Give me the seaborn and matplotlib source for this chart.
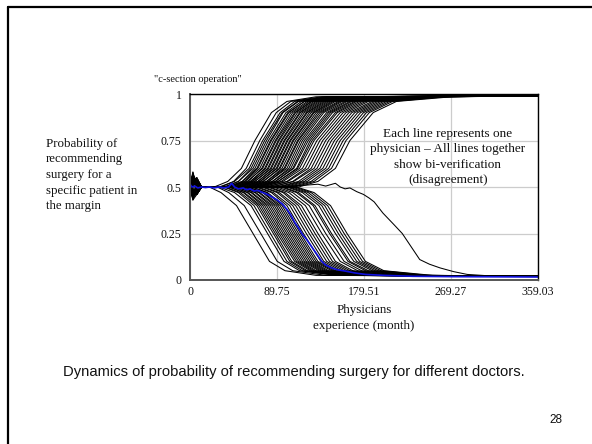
import numpy as np
import pandas as pd
import matplotlib
matplotlib.use("Agg")
import matplotlib.pyplot as plt
import seaborn as sns

# ----------------------------------------------------
# Datos
# ----------------------------------------------------

x_ticks = [0, 89.75, 179.51, 269.27, 359.03]
x_labels = ["0", "89.75", "179.51", "269.27", "359.03"]
y_ticks = [0, 0.25, 0.5, 0.75, 1]
y_labels = ["0", "0.25", "0.5", "0.75", "1"]

# ruido inicial: meses del ruido (inicio, pico 1, pico 2, vuelta a 0.5)
spike_months = [0, 3, 7, 12]

# medicos que terminan recomendando cirugia: meses en que cruzan cada nivel
upper_levels = [0.50, 0.53, 0.60, 0.75, 0.90, 0.96, 0.985]
upper_end = 0.99
upper_spike = [0.56, 0.53, 0.58, 0.51, 0.55, 0.57, 0.52, 0.54, 0.56, 0.50,
               0.53, 0.57, 0.55, 0.52, 0.58, 0.54, 0.51, 0.56, 0.53, 0.55,
               0.57, 0.52, 0.54, 0.56, 0.51, 0.55, 0.53, 0.57, 0.52, 0.54,
               0.56, 0.50, 0.55, 0.53, 0.57, 0.52, 0.54, 0.56, 0.51, 0.55,
               0.53, 0.57, 0.52, 0.54, 0.56, 0.53]
upper_spike2 = [0.51, 0.54, 0.50, 0.53, 0.52, 0.49, 0.54, 0.51, 0.50, 0.53,
                0.55, 0.50, 0.52, 0.54, 0.49, 0.51, 0.53, 0.50, 0.54, 0.52,
                0.50, 0.53, 0.55, 0.51, 0.52, 0.49, 0.54, 0.51, 0.53, 0.50,
                0.52, 0.54, 0.50, 0.53, 0.51, 0.55, 0.50, 0.52, 0.54, 0.49,
                0.53, 0.51, 0.54, 0.50, 0.52, 0.53]
upper_times = [
    [25, 39, 53, 67, 84, 100, 130],
    [32, 45, 58, 72, 89, 104, 136],
    [30, 46, 61, 75, 93, 108, 140],
    [36, 50, 63, 77, 95, 111, 142],
    [35, 50, 65, 79, 96, 112, 146],
    [40, 54, 67, 81, 99, 115, 148],
    [38, 54, 69, 83, 101, 118, 150],
    [42, 56, 70, 84, 102, 118, 152],
    [40, 57, 72, 86, 104, 121, 155],
    [45, 60, 74, 88, 106, 123, 156],
    [42, 59, 75, 89, 108, 125, 160],
    [48, 63, 77, 91, 109, 126, 160],
    [45, 62, 78, 92, 111, 128, 164],
    [50, 65, 80, 94, 113, 130, 165],
    [47, 64, 81, 95, 114, 132, 168],
    [52, 67, 83, 97, 116, 134, 170],
    [50, 67, 84, 98, 118, 136, 172],
    [55, 70, 86, 100, 120, 138, 175],
    [52, 70, 87, 101, 121, 140, 178],
    [57, 73, 89, 103, 123, 142, 180],
    [55, 72, 90, 104, 125, 144, 182],
    [60, 76, 92, 106, 127, 146, 185],
    [58, 75, 93, 107, 128, 148, 188],
    [62, 79, 95, 109, 130, 150, 190],
    [60, 79, 97, 111, 132, 153, 193],
    [65, 82, 98, 112, 134, 155, 195],
    [62, 81, 100, 114, 136, 157, 198],
    [68, 85, 102, 116, 138, 160, 200],
    [65, 85, 104, 118, 141, 162, 204],
    [70, 88, 106, 120, 143, 165, 207],
    [68, 88, 107, 122, 145, 167, 210],
    [72, 91, 110, 124, 147, 170, 213],
    [70, 91, 111, 126, 150, 172, 216],
    [75, 94, 113, 128, 152, 175, 220],
    [74, 96, 116, 131, 155, 178, 224],
    [80, 100, 119, 134, 158, 181, 228],
    [78, 101, 122, 137, 161, 184, 232],
    [85, 106, 125, 140, 164, 188, 236],
    [84, 107, 128, 143, 167, 191, 240],
    [90, 112, 131, 146, 170, 194, 244],
    [92, 115, 134, 149, 173, 197, 248],
    [96, 118, 137, 152, 176, 200, 252],
    [100, 121, 140, 155, 179, 203, 256],
    [104, 125, 143, 158, 182, 206, 260],
    [108, 128, 146, 161, 185, 209, 264],
    [112, 132, 150, 165, 189, 213, 270],
]

# medicos que terminan sin recomendar cirugia
lower_levels = [0.50, 0.47, 0.40, 0.25, 0.10, 0.05, 0.025]
lower_end = 0.02
lower_spike = [0.46, 0.48, 0.44, 0.49, 0.45, 0.47, 0.43, 0.48, 0.46, 0.44,
               0.49, 0.45, 0.47, 0.46, 0.44, 0.48, 0.45, 0.49, 0.46, 0.43,
               0.47, 0.45, 0.48, 0.44, 0.46, 0.49, 0.45, 0.47, 0.44, 0.48,
               0.46, 0.45, 0.47, 0.49]
lower_spike2 = [0.49, 0.46, 0.50, 0.47, 0.48, 0.51, 0.46, 0.49, 0.47, 0.50,
                0.46, 0.48, 0.50, 0.47, 0.49, 0.46, 0.51, 0.48, 0.47, 0.50,
                0.46, 0.49, 0.47, 0.50, 0.48, 0.46, 0.49, 0.51, 0.47, 0.48,
                0.50, 0.46, 0.49, 0.47]
lower_times = [
    [20, 32, 48, 65, 82, 98, 130],
    [28, 40, 56, 73, 90, 106, 140],
    [30, 46, 63, 80, 97, 113, 150],
    [35, 50, 66, 83, 100, 116, 152],
    [36, 52, 69, 86, 103, 119, 155],
    [40, 55, 71, 88, 105, 121, 158],
    [40, 56, 73, 90, 108, 124, 160],
    [44, 59, 75, 92, 110, 126, 162],
    [44, 60, 77, 94, 112, 128, 165],
    [48, 63, 79, 96, 114, 130, 166],
    [48, 64, 81, 98, 116, 133, 170],
    [52, 67, 83, 100, 118, 135, 172],
    [52, 68, 85, 102, 120, 137, 175],
    [56, 71, 87, 104, 122, 139, 176],
    [56, 72, 89, 106, 124, 141, 180],
    [60, 75, 91, 108, 126, 143, 182],
    [60, 76, 93, 110, 128, 146, 185],
    [64, 79, 95, 112, 130, 148, 186],
    [64, 80, 97, 114, 132, 150, 190],
    [68, 84, 100, 117, 135, 153, 192],
    [70, 86, 103, 120, 138, 156, 196],
    [74, 90, 106, 123, 141, 159, 200],
    [76, 92, 109, 126, 144, 162, 204],
    [80, 96, 112, 129, 147, 165, 208],
    [82, 98, 115, 132, 150, 168, 212],
    [86, 102, 119, 136, 155, 173, 216],
    [90, 106, 123, 140, 159, 177, 220],
    [94, 110, 127, 144, 163, 181, 226],
    [96, 112, 129, 146, 165, 184, 228],
    [100, 116, 133, 150, 169, 188, 232],
    [102, 119, 136, 153, 172, 191, 236],
    [105, 122, 139, 156, 175, 194, 240],
    [108, 125, 142, 159, 178, 197, 245],
    [110, 128, 145, 162, 181, 200, 250],
]

# el medico que tarda mucho en decidirse
slow_months = [0, 20, 50, 80, 100, 120, 132, 140, 150, 155, 160, 165, 172, 179,
               185, 190, 199, 210, 219, 228, 237, 247, 258, 272, 286, 310, 359.03]
slow_prob = [0.50, 0.50, 0.50, 0.505, 0.505, 0.51, 0.515, 0.505, 0.52, 0.50,
             0.49, 0.495, 0.475, 0.46, 0.44, 0.42, 0.36, 0.30, 0.25, 0.18,
             0.11, 0.085, 0.065, 0.045, 0.03, 0.022, 0.02]

# linea azul destacada
blue_months = [0, 2, 5, 8, 12, 16, 20, 25, 30, 35, 40, 43, 46, 50, 55, 58, 62,
               66, 70, 75, 80, 85, 90, 95, 100, 104, 108, 112, 116, 120, 124,
               128, 132, 136, 140, 146, 152, 160, 170, 181, 200, 230, 270, 320,
               359.03]
blue_prob = [0.515, 0.50, 0.505, 0.495, 0.50, 0.497, 0.50, 0.495, 0.50, 0.495,
             0.50, 0.52, 0.50, 0.49, 0.495, 0.485, 0.49, 0.478, 0.482, 0.47,
             0.46, 0.445, 0.43, 0.41, 0.38, 0.35, 0.31, 0.28, 0.245, 0.22,
             0.19, 0.16, 0.13, 0.10, 0.08, 0.065, 0.055, 0.048, 0.038, 0.03,
             0.025, 0.02, 0.018, 0.017, 0.016]

# ----------------------------------------------------
# Tabla larga para seaborn
# ----------------------------------------------------
rows = []
line_id = 0
for s1, s2, times in zip(upper_spike, upper_spike2, upper_times):
    ts = spike_months + times + [x_ticks[-1]]
    vs = [0.5, s1, s2, 0.5] + upper_levels + [upper_end]
    for t, v in zip(ts, vs):
        rows.append((line_id, t, v))
    line_id += 1
for s1, s2, times in zip(lower_spike, lower_spike2, lower_times):
    ts = spike_months + times + [x_ticks[-1]]
    vs = [0.5, s1, s2, 0.5] + lower_levels + [lower_end]
    for t, v in zip(ts, vs):
        rows.append((line_id, t, v))
    line_id += 1
for t, v in zip(slow_months, slow_prob):
    rows.append((line_id, t, v))
df = pd.DataFrame(rows, columns=["medico", "mes", "prob"])
df_blue = pd.DataFrame({"mes": blue_months, "prob": blue_prob})

# ----------------------------------------------------
# Grafico
# ----------------------------------------------------
sns.set_style("white")
plt.rcParams["font.family"] = ["Liberation Serif", "DejaVu Serif"]

fig = plt.figure(figsize=(5.92, 4.44), dpi=100)
ax = fig.add_axes([190 / 592, 1 - 280 / 444, 348 / 592, 186 / 444])

sns.lineplot(data=df, x="mes", y="prob", units="medico", estimator=None,
             sort=False, color="black", linewidth=0.75, ax=ax)
sns.lineplot(data=df_blue, x="mes", y="prob", estimator=None, sort=False,
             color="#1010dd", linewidth=1.2, ax=ax)

ax.set_xlim(0, x_ticks[-1])
ax.set_ylim(0, 1)
ax.set_xticks(x_ticks)
ax.set_xticklabels(x_labels)
ax.set_yticks(y_ticks)
ax.set_yticklabels(y_labels)
ax.tick_params(axis="both", length=0, labelsize=8.5, colors="#111111")
ax.tick_params(axis="y", pad=6)
ax.tick_params(axis="x", pad=4)
ax.grid(True, color="#cccccc", linewidth=0.9)
ax.set_axisbelow(True)
ax.set_xlabel("")
ax.set_ylabel("")
for side in ["left", "bottom"]:
    ax.spines[side].set_color("#555555")
    ax.spines[side].set_linewidth(1.4)
for side in ["top", "right"]:
    ax.spines[side].set_color("black")
    ax.spines[side].set_linewidth(1.0)

ax.text(448 / 592, 1 - 157 / 444,
        "Each line represents one\nphysician \u2013 All lines together\nshow bi-verification\n(disagreement)",
        transform=fig.transFigure, ha="center", va="center", fontsize=9.5,
        linespacing=1.35, color="#111111")

fig.text(198 / 592, 1 - 80 / 444, '"c-section operation"', ha="center",
         va="center", fontsize=7.5, color="#111111")
fig.text(46 / 592, 1 - 175 / 444,
         "Probability of\nrecommending\nsurgery for a\nspecific patient in\nthe margin",
         ha="left", va="center", fontsize=9.3, linespacing=1.4, color="#111111")
fig.text(364 / 592, 1 - 318 / 444, "Physicians\nexperience (month)",
         ha="center", va="center", fontsize=9.4, linespacing=1.4, color="#111111")
fig.text(63 / 592, 1 - 372 / 444,
         "Dynamics of probability of recommending surgery for different doctors.",
         ha="left", va="center", fontsize=10.6, family="Liberation Sans",
         color="#111111")
fig.text(556 / 592, 1 - 420 / 444, "28", ha="center", va="center",
         fontsize=8.5, family="Liberation Sans", color="#111111")

# marco de la diapositiva
fig.add_artist(plt.Line2D([8 / 592, 8 / 592], [0, 1 - 7 / 444],
                          transform=fig.transFigure, color="black", linewidth=1.6))
fig.add_artist(plt.Line2D([8 / 592, 1], [1 - 7 / 444, 1 - 7 / 444],
                          transform=fig.transFigure, color="black", linewidth=1.6))

fig.savefig("out.png", dpi=100)
